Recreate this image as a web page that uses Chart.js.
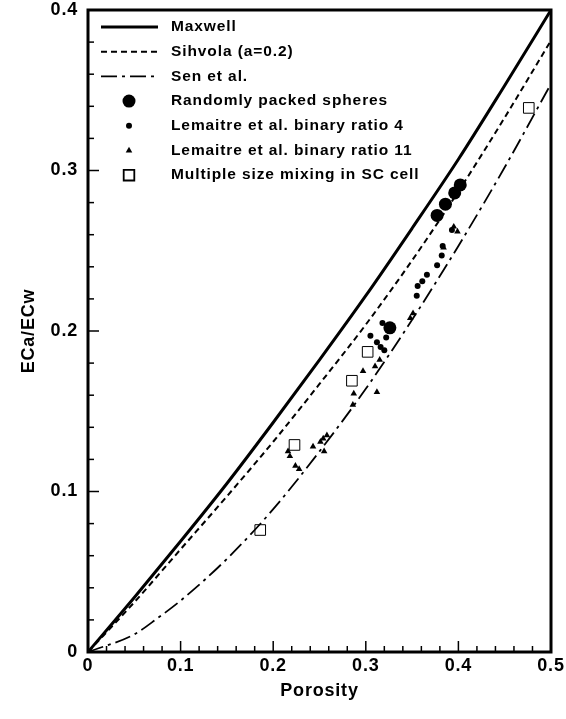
<!DOCTYPE html>
<html>
<head>
<meta charset="utf-8">
<script src="https://cdn.jsdelivr.net/npm/chart.js@4.4.1/dist/chart.umd.min.js"></script>
<style>
html, body { margin: 0; padding: 0; background: #fff; }
</style>
</head>
<body>
<canvas id="grafica" width="566" height="719"></canvas>
<script>
// DATOS

const xCurva = [0, 0.05, 0.1, 0.15, 0.2, 0.25, 0.3, 0.35, 0.4, 0.45, 0.5];
const maxwell = [0, 0.034, 0.069, 0.105, 0.143, 0.182, 0.222, 0.264, 0.307, 0.353, 0.4];
const sihvola = [0, 0.031, 0.064, 0.097, 0.131, 0.167, 0.204, 0.244, 0.287, 0.333, 0.381];

const xSen = [0, 0.05, 0.075, 0.1, 0.15, 0.2, 0.25, 0.3, 0.35, 0.4, 0.45, 0.5];
const sen = [0, 0.011, 0.021, 0.032, 0.058, 0.089, 0.125, 0.164, 0.207, 0.253, 0.302, 0.354];

const esferasX = [0.326, 0.377, 0.386, 0.396, 0.402];
const esferasY = [0.202, 0.272, 0.279, 0.286, 0.291];

const ratio4X = [0.305, 0.312, 0.316, 0.318, 0.322, 0.320, 0.355, 0.356, 0.361, 0.366, 0.377, 0.382, 0.383, 0.393];
const ratio4Y = [0.197, 0.193, 0.190, 0.205, 0.196, 0.188, 0.222, 0.228, 0.231, 0.235, 0.241, 0.247, 0.253, 0.263];

const ratio11X = [0.216, 0.218, 0.224, 0.228, 0.243, 0.251, 0.254, 0.258, 0.255, 0.286, 0.287, 0.297, 0.310, 0.315, 0.312, 0.348, 0.351, 0.384, 0.395, 0.399];
const ratio11Y = [0.125, 0.122, 0.116, 0.114, 0.128, 0.131, 0.133, 0.135, 0.125, 0.154, 0.161, 0.175, 0.178, 0.182, 0.162, 0.208, 0.211, 0.252, 0.265, 0.262];

const mezclaX = [0.186, 0.223, 0.285, 0.302, 0.476];
const mezclaY = [0.076, 0.129, 0.169, 0.187, 0.339];

const ticksX = [0, 0.1, 0.2, 0.3, 0.4, 0.5];
const ticksY = [0, 0.1, 0.2, 0.3, 0.4];

const nombres = [
    'Maxwell',
    'Sihvola (a=0.2)',
    'Sen et al.',
    'Randomly packed spheres',
    'Lemaitre et al. binary ratio 4',
    'Lemaitre et al. binary ratio 11',
    'Multiple size mixing in SC cell'
];

function pares(xs, ys){
    return xs.map((x, i) => ({ x: x, y: ys[i] }));
}

const FUENTE = '"Liberation Sans", Arial, sans-serif';


// MARCO Y MARCAS HACIA ADENTRO

const marco = {
    id: 'marco',
    beforeUpdate(chart){
        chart.ctx.letterSpacing = '0.8px';
    },
    afterDatasetsDraw(chart){
        const ctx = chart.ctx;
        const a = chart.chartArea;
        const sx = chart.scales.x;
        const sy = chart.scales.y;
        ctx.save();
        ctx.strokeStyle = '#000';
        ctx.lineWidth = 1.5;
        for(let i = 1; i < 25; i++){
            const px = sx.getPixelForValue(i * 0.02);
            const largo = (i % 5 === 0) ? 11 : 6;
            ctx.beginPath();
            ctx.moveTo(px, a.bottom);
            ctx.lineTo(px, a.bottom - largo);
            ctx.stroke();
        }
        for(let i = 1; i < 20; i++){
            const py = sy.getPixelForValue(i * 0.02);
            const largo = (i % 5 === 0) ? 11 : 6;
            ctx.beginPath();
            ctx.moveTo(a.left, py);
            ctx.lineTo(a.left + largo, py);
            ctx.stroke();
        }
        ctx.lineWidth = 3;
        ctx.strokeRect(a.left, a.top, a.right - a.left, a.bottom - a.top);
        ctx.restore();
    }
};


// LEYENDA

const leyenda = {
    id: 'leyenda',
    afterDatasetsDraw(chart){
        const ctx = chart.ctx;
        ctx.save();
        chart.data.datasets.forEach((ds, i) => {
            const y = 27 + i * 24.7;
            ctx.strokeStyle = '#000';
            ctx.fillStyle = '#000';
            if(ds.showLine){
                ctx.lineWidth = ds.borderWidth;
                ctx.setLineDash(ds.borderDash || []);
                ctx.beginPath();
                ctx.moveTo(101, y);
                ctx.lineTo(158, y);
                ctx.stroke();
                ctx.setLineDash([]);
            } else {
                ctx.fillStyle = ds.pointBackgroundColor;
                ctx.strokeStyle = ds.pointBorderColor;
                Chart.helpers.drawPoint(ctx, {
                    pointStyle: ds.pointStyle,
                    radius: ds.pointRadius,
                    rotation: 0,
                    borderWidth: ds.pointBorderWidth
                }, 129, y);
            }
            ctx.fillStyle = '#000';
            ctx.font = 'bold 15.5px ' + FUENTE;
            ctx.letterSpacing = '0.9px';
            ctx.textBaseline = 'middle';
            ctx.textAlign = 'left';
            ctx.fillText(ds.label, 171, y);
        });
        ctx.restore();
    }
};


// GRAFICA

const ctx = document.getElementById('grafica');

new Chart(ctx, {

    type: 'scatter',

    data: {
        datasets: [
            {
                label: nombres[0],
                data: pares(xCurva, maxwell),
                showLine: true,
                borderColor: '#000',
                borderWidth: 3,
                pointRadius: 0,
                cubicInterpolationMode: 'monotone'
            },
            {
                label: nombres[1],
                data: pares(xCurva, sihvola),
                showLine: true,
                borderColor: '#000',
                borderWidth: 2,
                borderDash: [6, 4],
                pointRadius: 0,
                cubicInterpolationMode: 'monotone'
            },
            {
                label: nombres[2],
                data: pares(xSen, sen),
                showLine: true,
                borderColor: '#000',
                borderWidth: 1.8,
                borderDash: [16, 5, 3, 5],
                pointRadius: 0,
                cubicInterpolationMode: 'monotone'
            },
            {
                label: nombres[3],
                data: pares(esferasX, esferasY),
                showLine: false,
                pointStyle: 'circle',
                pointRadius: 6.5,
                pointBackgroundColor: '#000',
                pointBorderColor: '#000',
                pointBorderWidth: 0
            },
            {
                label: nombres[4],
                data: pares(ratio4X, ratio4Y),
                showLine: false,
                pointStyle: 'circle',
                pointRadius: 3,
                pointBackgroundColor: '#000',
                pointBorderColor: '#000',
                pointBorderWidth: 0
            },
            {
                label: nombres[5],
                data: pares(ratio11X, ratio11Y),
                showLine: false,
                pointStyle: 'triangle',
                pointRadius: 3.8,
                pointBackgroundColor: '#000',
                pointBorderColor: '#000',
                pointBorderWidth: 0
            },
            {
                label: nombres[6],
                data: pares(mezclaX, mezclaY),
                showLine: false,
                pointStyle: 'rect',
                pointRadius: 7.5,
                pointBackgroundColor: '#fff',
                pointBorderColor: '#000',
                pointBorderWidth: 1
            }
        ]
    },

    options: {

        responsive: false,
        devicePixelRatio: 1,
        animation: false,

        layout: {
            padding: { top: 10, right: 15, left: 0, bottom: 0 }
        },

        plugins: {
            legend: { display: false },
            tooltip: { enabled: false }
        },

        scales: {

            x: {
                type: 'linear',
                min: 0,
                max: 0.5,
                afterBuildTicks: s => { s.ticks = ticksX.map(v => ({ value: v })); },
                afterFit: s => { s.height = 67; s.paddingLeft = 0; s.paddingRight = 0; },
                grid: { display: false, drawTicks: false },
                border: { display: false },
                ticks: {
                    color: '#000',
                    padding: 3,
                    font: { family: FUENTE, size: 18, weight: 'bold' },
                    callback: v => v === 0 ? '0' : v.toFixed(1)
                },
                title: {
                    display: true,
                    text: 'Porosity',
                    color: '#000',
                    font: { family: FUENTE, size: 18, weight: 'bold' },
                    padding: { top: 0, bottom: 17 }
                }
            },

            y: {
                type: 'linear',
                min: 0,
                max: 0.4,
                afterBuildTicks: s => { s.ticks = ticksY.map(v => ({ value: v })); },
                afterFit: s => { s.width = 88; s.paddingTop = 0; s.paddingBottom = 0; },
                grid: { display: false, drawTicks: false },
                border: { display: false },
                ticks: {
                    color: '#000',
                    padding: 10,
                    font: { family: FUENTE, size: 18, weight: 'bold' },
                    callback: v => v === 0 ? '0' : v.toFixed(1)
                },
                title: {
                    display: true,
                    text: 'ECa/ECw',
                    color: '#000',
                    font: { family: FUENTE, size: 18, weight: 'bold' },
                    padding: { top: 18, bottom: 0 }
                }
            }

        }

    },

    plugins: [marco, leyenda]

});
</script>
</body>
</html>
